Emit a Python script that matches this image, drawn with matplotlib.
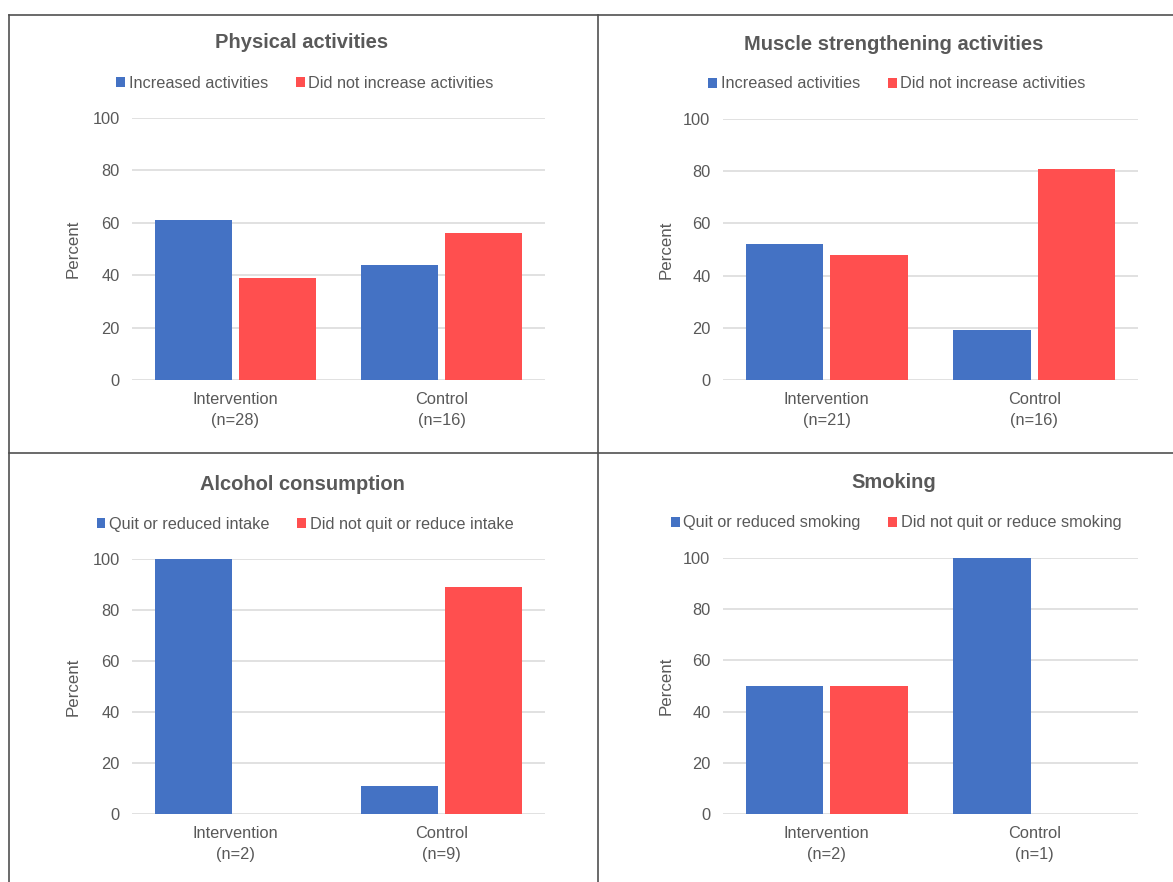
import matplotlib
matplotlib.use("Agg")
import matplotlib.pyplot as plt
import numpy as np
from matplotlib.patches import Patch
from matplotlib.lines import Line2D

# ---------------- data ----------------
titles = ["Physical activities", "Muscle strengthening activities",
          "Alcohol consumption", "Smoking"]
legend_pos = [["Increased activities", "Did not increase activities"],
              ["Increased activities", "Did not increase activities"],
              ["Quit or reduced intake", "Did not quit or reduce intake"],
              ["Quit or reduced smoking", "Did not quit or reduce smoking"]]
categories = [["Intervention\n(n=28)", "Control\n(n=16)"],
              ["Intervention\n(n=21)", "Control\n(n=16)"],
              ["Intervention\n(n=2)", "Control\n(n=9)"],
              ["Intervention\n(n=2)", "Control\n(n=1)"]]
positive_values = [[61, 44], [52, 19], [100, 11], [50, 100]]
negative_values = [[39, 56], [48, 81], [0, 89], [50, 0]]
y_ticks = [0, 20, 40, 60, 80, 100]

# ---------------- style ----------------
BLUE = "#4472C4"
RED = "#FF4F4F"
TXT = "#595959"
GRID = "#D9D9D9"
FONT = "Liberation Sans"
plt.rcParams["font.family"] = [FONT, "DejaVu Sans"]

W, H = 1173, 882
fig = plt.figure(figsize=(W / 100, H / 100), dpi=100)

def fx(px):
    return px / W

def fy(py):
    return 1 - py / H

# axes boxes in pixel coordinates: (left, right, top(y=100), bottom(y=0))
boxes = [(132, 545, 118, 380), (723, 1138, 119, 380),
         (132, 545, 559, 814), (723, 1138, 558, 814)]
title_pos = [(302, 43), (894, 44), (302, 484), (894, 482)]
legend_y = [83, 84, 524, 523]
legend_x = [305, 897, 305, 896]
ylabel_x = [73, 666, 73, 666]

bw = 0.373
off = bw / 2 + 0.017

for i in range(4):
    l, r, t, b = boxes[i]
    ax = fig.add_axes([fx(l), fy(b), fx(r) - fx(l), fy(t) - fy(b)])
    x = np.arange(len(categories[i]))
    ax.bar(x - off, positive_values[i], width=bw, color=BLUE, zorder=3)
    ax.bar(x + off, negative_values[i], width=bw, color=RED, zorder=3)
    ax.set_xlim(-0.5, len(categories[i]) - 0.5)
    ax.set_ylim(0, 100)
    ax.set_yticks(y_ticks)
    ax.set_xticks(x)
    ax.set_xticklabels(categories[i], color=TXT, fontsize=11.8, linespacing=1.45)
    ax.tick_params(axis="y", length=0, pad=9, labelcolor=TXT, labelsize=11.8)
    ax.tick_params(axis="x", length=0, pad=9)
    for s in ax.spines.values():
        s.set_visible(False)
    ax.grid(axis="y", color=GRID, linewidth=1.1, zorder=0)
    ax.set_axisbelow(True)
    # y label
    fig.text(fx(ylabel_x[i]), fy((t + b) / 2), "Percent", rotation=90,
             ha="center", va="center", color=TXT, fontsize=12.2)
    # title
    tx, ty = title_pos[i]
    fig.text(fx(tx), fy(ty), titles[i], ha="center", va="center",
             color=TXT, fontsize=14.5, fontweight="bold")
    # legend
    handles = [Patch(facecolor=BLUE, edgecolor="none", label=legend_pos[i][0]),
               Patch(facecolor=RED, edgecolor="none", label=legend_pos[i][1])]
    lg = fig.legend(handles=handles, loc="center", ncol=2, frameon=False,
                    bbox_to_anchor=(fx(legend_x[i]), fy(legend_y[i])),
                    handlelength=0.55, handleheight=0.55, handletextpad=0.22,
                    columnspacing=1.7, fontsize=11.7, borderaxespad=0,
                    borderpad=0)
    for txt in lg.get_texts():
        txt.set_color(TXT)

# panel separator lines
LC = "#505050"
lw = 1.2
fig.add_artist(Line2D([fx(9), 1], [fy(15), fy(15)], color=LC, lw=lw))
fig.add_artist(Line2D([fx(9), 1], [fy(453), fy(453)], color=LC, lw=lw))
fig.add_artist(Line2D([fx(9), fx(9)], [fy(15), 0], color=LC, lw=lw))
fig.add_artist(Line2D([fx(598), fx(598)], [fy(15), 0], color=LC, lw=lw))

fig.savefig("out.png", dpi=100, facecolor="white")
